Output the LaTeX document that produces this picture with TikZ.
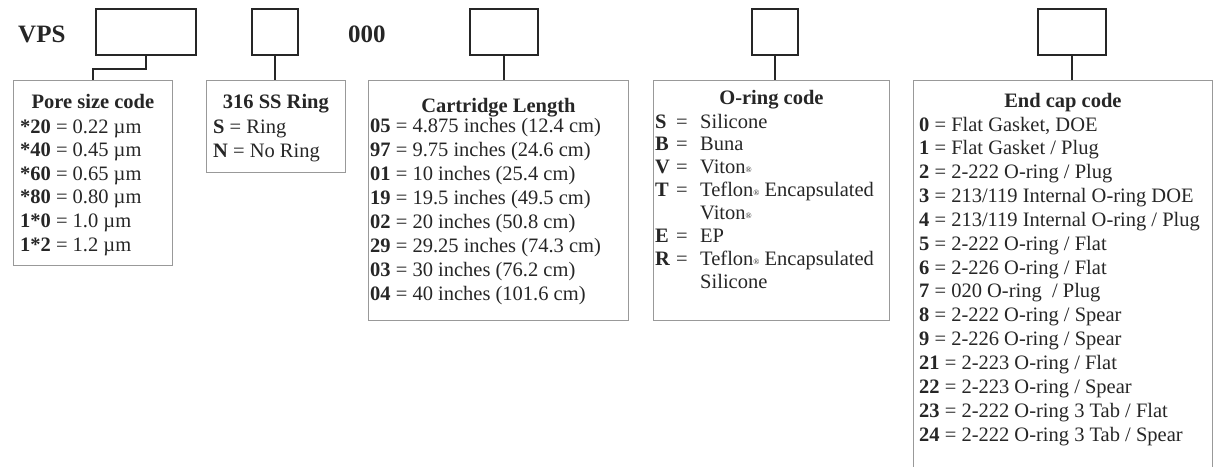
\documentclass[tikz,border=0pt]{standalone}
\usepackage{fontspec}
\setmainfont{Liberation Serif}
\usetikzlibrary{positioning}
\newcommand{\regmark}{{\fontsize{8}{8}\selectfont\raisebox{1pt}{®}}}

\begin{document}
\begin{tikzpicture}[x=1pt, y=1pt, font=\fontsize{20.5}{24}\selectfont, text=black!85,
    codebox/.style={draw=black!85, line width=1.6pt, minimum height=46pt, inner sep=0},
    keybox/.style={draw=black!40, line width=0.8pt, inner sep=0, anchor=north west},
    link/.style={draw=black!85, line width=1.6pt},
    keytitle/.style={anchor=base, inner sep=0, font=\fontsize{20.5}{24}\selectfont\bfseries},
    keyline/.style={anchor=base west, inner sep=0},
    partno/.style={anchor=base west, inner sep=0, font=\fontsize{25}{30}\selectfont\bfseries}]
    \useasboundingbox (0,0) rectangle (1217,-466);
    \clip (0,0) rectangle (1217,-466);

    % part number
    \node[partno] (vps) at (18,-42.7) {VPS};
    \node[partno] (zeros) at (348,-42.7) {000};
    \node[codebox, minimum width=100pt] (poresel)   at (146,-32) {};
    \node[codebox, minimum width=46pt]  (ringsel)   at (275,-32) {};
    \node[codebox, minimum width=68pt]  (lengthsel) at (504,-32) {};
    \node[codebox, minimum width=46pt]  (oringsel)  at (775,-32) {};
    \node[codebox, minimum width=68pt]  (capsel)    at (1072,-32) {};

    % keys
    \node[keybox, minimum width=159pt, minimum height=185pt] (pore)   at (13,-80)  {};
    \node[keybox, minimum width=139pt, minimum height=92pt]  (ring)   at (206,-80) {};
    \node[keybox, minimum width=260pt, minimum height=240pt] (length) at (368,-80) {};
    \node[keybox, minimum width=236pt, minimum height=240pt] (oring)  at (653,-80) {};
    \node[keybox, minimum width=299pt, minimum height=395pt] (cap)    at (913,-80) {};

    \draw[link] (poresel.south) -- ++(0,-13) -| (pore.north);
    \draw[link] (ringsel.south) -- (ringsel.south |- ring.north);
    \draw[link] (lengthsel.south) -- (lengthsel.south |- length.north);
    \draw[link] (oringsel.south) -- (oringsel.south |- oring.north);
    \draw[link] (capsel.south) -- (capsel.south |- cap.north);

    % pore size
    \node[keytitle] (pore-title) at (pore.north |- 0,-108) {Pore size code};
    \foreach \t [count=\i] in {{\textbf{*20} = 0.22 µm}, {\textbf{*40} = 0.45 µm},
        {\textbf{*60} = 0.65 µm}, {\textbf{*80} = 0.80 µm},
        {\textbf{1*0} = 1.0 µm}, {\textbf{1*2} = 1.2 µm}}
        \node[keyline] (pore-\i) at (20,-109.4-23.6*\i) {\t};

    % ring
    \node[keytitle] (ring-title) at (ring.north |- 0,-108) {316 SS Ring};
    \node[keyline] (ring-1) at (213,-133) {\textbf{S} = Ring};
    \node[keyline] (ring-2) at (213,-157) {\textbf{N} = No Ring};

    % cartridge length
    \node[keytitle] (length-title) at (length.north |- 0,-112) {Cartridge Length};
    \foreach \t [count=\i] in {{\textbf{05} = 4.875 inches (12.4 cm)},
        {\textbf{97} = 9.75 inches (24.6 cm)}, {\textbf{01} = 10 inches (25.4 cm)},
        {\textbf{19} = 19.5 inches (49.5 cm)}, {\textbf{02} = 20 inches (50.8 cm)},
        {\textbf{29} = 29.25 inches (74.3 cm)}, {\textbf{03} = 30 inches (76.2 cm)},
        {\textbf{04} = 40 inches (101.6 cm)}}
        \node[keyline] (length-\i) at (370,-108-24*\i) {\t};

    % o-ring
    \node[keytitle] (oring-title) at (oring.north |- 0,-104) {O-ring code};
    \foreach \c/\e/\t [count=\i] in {S/=/Silicone, B/=/Buna, V/=/{Viton\regmark},
        T/=/{Teflon\regmark{} Encapsulated}, {}/{}/{Viton\regmark}, E/=/EP,
        R/=/{Teflon\regmark{} Encapsulated}, {}/{}/Silicone}{
        \node[keyline] (oring-c\i) at (655,-105.1-22.9*\i) {\textbf{\c}};
        \node[keyline] (oring-e\i) at (676,-105.1-22.9*\i) {\e};
        \node[keyline] (oring-t\i) at (700,-105.1-22.9*\i) {\t};
    }

    % end cap
    \node[keytitle] (cap-title) at (cap.north |- 0,-107) {End cap code};
    \foreach \t [count=\i] in {{\textbf{0} = Flat Gasket, DOE}, {\textbf{1} = Flat Gasket / Plug},
        {\textbf{2} = 2-222 O-ring / Plug}, {\textbf{3} = 213/119 Internal O-ring DOE},
        {\textbf{4} = 213/119 Internal O-ring / Plug}, {\textbf{5} = 2-222 O-ring / Flat},
        {\textbf{6} = 2-226 O-ring / Flat}, {\textbf{7} = 020 O-ring\ \ / Plug},
        {\textbf{8} = 2-222 O-ring / Spear}, {\textbf{9} = 2-226 O-ring / Spear},
        {\textbf{21} = 2-223 O-ring / Flat}, {\textbf{22} = 2-223 O-ring / Spear},
        {\textbf{23} = 2-222 O-ring 3 Tab / Flat}, {\textbf{24} = 2-222 O-ring 3 Tab / Spear}}
        \node[keyline] (cap-\i) at (919,-107.15-23.85*\i) {\t};
\end{tikzpicture}
\end{document}
